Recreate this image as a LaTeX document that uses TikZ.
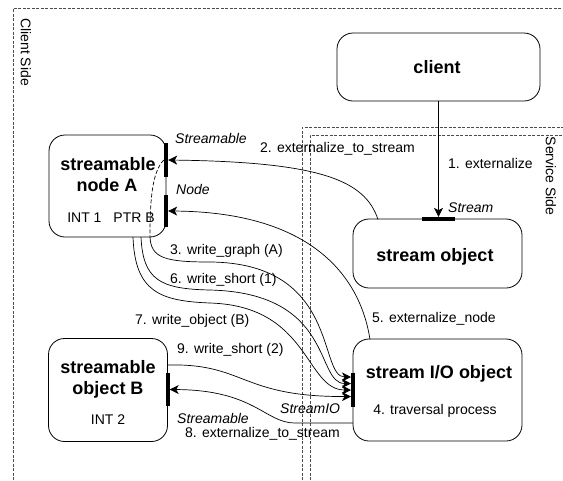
\documentclass[tikz,border=0pt]{standalone}
\usepackage{fontspec}
\setmainfont{Liberation Sans}
\usetikzlibrary{arrows.meta}
\begin{document}
\begin{tikzpicture}[x=1pt,y=-1pt,
  box/.style={draw, line width=0.8pt, rounded corners=16pt, inner sep=0pt},
  title/.style={font=\fontsize{18}{21}\selectfont\bfseries, inner sep=0pt, anchor=base},
  lbl/.style={font=\fontsize{14}{16}\selectfont, inner sep=0pt, anchor=base west},
  iface/.style={font=\fontsize{14}{16}\selectfont\itshape, inner sep=0pt, anchor=base west},
  vbar/.style={fill=black, inner sep=0pt, minimum width=4pt},
  hbar/.style={fill=black, inner sep=0pt, minimum height=4pt},
  link/.style={line width=0.7pt},
  flow/.style={link, -{Stealth[length=9pt,width=9pt,inset=2.5pt]}},
  frame/.style={line width=0.6pt, black!70, dash pattern=on 3pt off 1.5pt}]

\useasboundingbox (0,0) rectangle (563,480);

% client and service areas
\draw[frame] (13,480) -- (13,8) -- (563,8);
\draw[frame] (302,480) -- (302,127) -- (563,127);
\draw[frame] (310,480) -- (310,135) -- (563,135);
\node[lbl, anchor=center, rotate=-90] (clientside) at (26,52) {Client Side};
\node[lbl, anchor=center, rotate=-90] (serviceside) at (551,176) {Service Side};

% objects
\node[box, minimum width=203pt, minimum height=68pt] (client) at (438.5,67) {};
\node[box, minimum width=169pt, minimum height=69pt] (so) at (437.5,253.5) {};
\node[box, minimum width=169pt, minimum height=102pt] (sio) at (437.5,390) {};
\node[box, minimum width=117pt, minimum height=102pt] (nodeA) at (107.5,186) {};
\node[box, minimum width=119pt, minimum height=103pt] (objB) at (108,390) {};

\node[title] (tclient) at (437,73) {client};
\node[title] (tso) at (435,261) {stream object};
\node[title] (tsio) at (439,378) {stream I/O object};
\node[lbl, anchor=base] (ttrav) at (435,414) {4. traversal process};
\node[title] (ta1) at (108,170) {streamable};
\node[title] (ta2) at (107,191) {node A};
\node[lbl, anchor=base] (ta3) at (111,222) {INT 1\hspace{12pt}PTR B};
\node[title] (tb1) at (108,373) {streamable};
\node[title] (tb2) at (108,394) {object B};
\node[lbl, anchor=base] (tb3) at (108,424) {INT 2};

% interface ports
\node[vbar, minimum height=34pt] (pAS) at (166,160) {};
\node[vbar, minimum height=32pt] (pAN) at (166,211) {};
\node[vbar, minimum height=33pt] (pBS) at (167.5,389.5) {};
\node[hbar, minimum width=33pt] (pS) at (438.5,219) {};
\node[vbar, minimum height=34pt] (pIO) at (353,390) {};

\node[iface] (lAS) at (175,143) {Streamable};
\node[iface] (lAN) at (176,194) {Node};
\node[iface] (lS) at (448,212) {Stream};
\node[iface] (lBS) at (177,423) {Streamable};
\node[iface] (lIO) at (280,413) {StreamIO};

% connector end points on the boxes
\coordinate (so2) at (378,219.5);
\coordinate (sio5) at (370,339.5);
\coordinate (a3) at (150,237);
\coordinate (a6) at (141,237);
\coordinate (a7) at (133,237);
\coordinate (b9) at (167.5,365);
\coordinate (sio8) at (353,423);
\coordinate (io1) at (351,377);
\coordinate (io2) at (351,383.5);
\coordinate (io3) at (351,390);
\coordinate (io4) at (351,396.5);

% 1. externalize
\draw[flow] (client.south -| pS) -- (pS.north);
\node[lbl] (l1) at (448,168) {1. externalize};

% 2. externalize_to_stream
\draw[flow] (so2) .. controls (365,180) and (320,162) .. (pAS.east);
\node[lbl] (l2) at (260,152) {2. externalize\_to\_stream};

% 5. externalize_node
\draw[flow] (sio5) .. controls (360,275) and (310,212) .. (pAN.east);
\node[lbl] (l5) at (372,322) {5. externalize\_node};

% internal path inside node A
\draw[link, dashed, dash pattern=on 4pt off 2pt] (pAS.west) .. controls (152,172) and (150,200) .. (a3);

% 3. write_graph (A)
\draw[flow] (a3) .. controls (151,258) and (165,262) .. (210,262)
  .. controls (340,263) and (318,377) .. (io1);
\node[lbl] (l3) at (170,254) {3. write\_graph (A)};

% 6. write_short (1)
\draw[flow] (a6) .. controls (143,280) and (160,289) .. (210,290)
  .. controls (335,293) and (315,383.5) .. (io2);
\node[lbl] (l6) at (170,283) {6. write\_short (1)};

% 7. write_object (B)
\draw[flow] (a7) .. controls (135,292) and (160,301) .. (210,303)
  .. controls (310,306) and (305,390) .. (io3);
\node[lbl] (l7) at (135,324) {7. write\_object (B)};

% 9. write_short (2)
\draw[flow] (b9) .. controls (245,363) and (240,397) .. (io4);
\node[lbl] (l9) at (177,353) {9. write\_short (2)};

% 8. externalize_to_stream
\draw[flow] (sio8) -- (295,423) .. controls (265,423) and (255,390) .. (pBS.east);
\node[lbl] (l8) at (185,437) {8. externalize\_to\_stream};

\end{tikzpicture}
\end{document}
